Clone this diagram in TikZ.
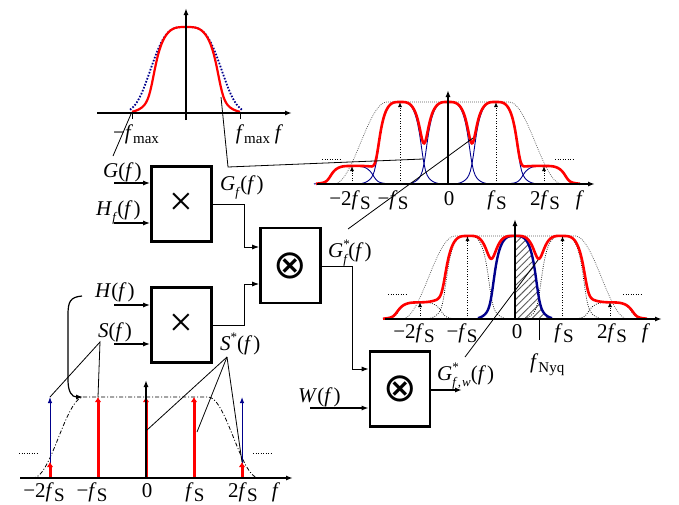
\documentclass[tikz,border=0pt]{standalone}
\usepackage{fontspec}
\setmainfont{Liberation Serif}
\newfontfamily\symfont{DejaVu Sans}
\usetikzlibrary{arrows.meta,patterns.meta}
\definecolor{navy}{RGB}{0,0,140}
\definecolor{rd}{RGB}{255,0,0}
\pgfmathdeclarefunction{gb}{1}{\pgfmathparse{exp(0-pow(min(abs(#1)/39.7,2.2)+0.001,3.44))}}
\pgfmathdeclarefunction{gr}{1}{\pgfmathparse{gb(#1)*(0.25+0.75/(1+exp(max(min((abs(#1)-34)/3,9),-9))))}}
\pgfmathdeclarefunction{pq}{1}{\pgfmathparse{gr(1.5*(#1))}}
\pgfmathdeclarefunction{pw}{1}{\pgfmathparse{gr(1.42*(#1))}}
\pgfmathdeclarefunction{rc}{3}{\pgfmathparse{0.5*(1+cos(180*min(max((abs(#1)-#2)/(#3-#2),0),1)))}}
\pgfmathdeclarefunction{rtr}{1}{\pgfmathparse{0.22*pq(#1+96)+pq(#1+48)+pq(#1)+pq(#1-48)+0.22*pq(#1-96)}}
\pgfmathdeclarefunction{rmr}{1}{\pgfmathparse{0.2*pw(#1+95)+pw(#1+47.5)+pw(#1)+pw(#1-47.5)+0.2*pw(#1-95)}}
\newcommand\fS{\textit{f}\kern0.3pt\raisebox{-4pt}{\fontsize{19}{19}\selectfont S}}
\newcommand\fmx{\textit{f}\raisebox{-4pt}{\fontsize{15}{15}\selectfont max}}
\newcommand\fnq{\textit{f}\raisebox{-4pt}{\fontsize{15}{15}\selectfont Nyq}}
\newcommand\sbf[1]{\raisebox{-6pt}{\fontsize{13}{13}\selectfont #1}}
\newcommand\spst{\raisebox{8.5pt}{\fontsize{13}{13}\selectfont *}}
\newcommand\ff{(\textit{f}\kern1pt)}
\begin{document}
\begin{tikzpicture}[x=1pt,y=-1pt,
  lab/.style={font=\fontsize{21}{24}\selectfont, inner sep=0pt},
  blk/.style={draw, line width=2.6pt, minimum width=60pt, minimum height=75pt, inner sep=0pt, fill=white},
  thinl/.style={line width=0.8pt},
  ax/.style={line width=1.4pt, -{Latex[length=7pt,width=5pt]}},
  inarr/.style={line width=1.5pt, -{Latex[length=7pt,width=5pt]}},
  conarr/.style={line width=1pt, -{Latex[length=7pt,width=5pt]}},
  dotarr/.style={line width=1pt, dash pattern=on 1pt off 1.6pt, -{Latex[length=5pt,width=4pt]}},
  envd/.style={line width=0.7pt, gray!70!black, dash pattern=on 0.8pt off 1.2pt},
  pulsed/.style={line width=0.7pt, black, dash pattern=on 0.8pt off 1.4pt},
  dots/.style={line width=1pt, dash pattern=on 1pt off 1.5pt},
  redc/.style={rd, line width=2.6pt, line join=round},
  redarr/.style={rd, line width=3pt, -{Latex[length=5pt,width=6.5pt]}},
  bluearr/.style={navy, line width=1pt, -{Latex[length=6pt,width=4.5pt]}},
  ]
\useasboundingbox (0,0) rectangle (679,504);

% ---------- top-left spectrum ----------
\draw[navy, line width=1.8pt, dash pattern=on 1.6pt off 1.6pt] plot[domain=-56:56, samples=60] ({186+\x},{113-86*gb(\x)});
\draw[rd, line width=2.2pt] plot[domain=-54:54, samples=120] ({186+\x},{113-86*gr(\x)});
\draw[ax] (97,113) -- (292,113);
\draw[ax] (186,120) -- (186,8);
\draw[thinl] (132,113) -- (132,119);
\draw[thinl] (240,113) -- (240,119);
\node[lab, anchor=base] (tlm) at (136,139) {−\fmx};
\node[lab, anchor=base] (tlp) at (253,139) {\fmx};
\node[lab, anchor=base] (tlf) at (279,139) {\textit{f}};

% ---------- top-right spectrum ----------
\foreach \k/\a in {-2/0.22,-1/1,0/1,1/1,2/0.22}
  \draw[navy, line width=0.9pt] plot[domain=-38:38, samples=50] ({448+48*\k+\x},{184-82*\a*pq(\x)});
\draw[envd] plot[domain=-116:116, samples=90] ({448+\x},{184-82*rc(\x,61,114)});
\draw[redc] plot[domain=-132:132, samples=240] ({448+\x},{184-82*rtr(\x)});
\draw[dotarr] (352,184) -- (352,166);
\draw[dotarr] (400,184) -- (400,102);
\draw[dotarr] (496,184) -- (496,102);
\draw[dotarr] (544,184) -- (544,166);
\draw[ax] (317,184) -- (595,184);
\draw[ax] (448,184) -- (448,90);
\draw[dots] (322,159) -- (340,159);
\draw[dots] (555,159) -- (573,159);
\node[lab, anchor=base] (tr1) at (350,205) {−2\fS};
\node[lab, anchor=base] (tr2) at (393,205) {−\fS};
\node[lab, anchor=base] (tr3) at (449,205) {0};
\node[lab, anchor=base] (tr4) at (497,205) {\fS};
\node[lab, anchor=base] (tr5) at (545,205) {2\fS};
\node[lab, anchor=base] (tr6) at (580,205) {\textit{f}};

% ---------- middle-right spectrum ----------
\fill[pattern={Lines[angle=45,distance=5pt,line width=0.9pt]}, pattern color=gray!70!black]
  (515,319) -- plot[domain=0:36, samples=40] ({515+\x},{319-83*pq(\x)}) -- cycle;
\foreach \k/\a in {-2/0.2,-1/1,1/1,2/0.2}
  \draw[pulsed] plot[domain=-37:37, samples=50] ({515+47.5*\k+\x},{319-83*\a*pq(\x)});
\draw[envd] plot[domain=-115:115, samples=90] ({515+\x},{319-83*rc(\x,60,113)});
\draw[navy, line width=2.4pt] plot[domain=-37:37, samples=70] ({515+\x},{319-83*pq(\x)});
\draw[redc] plot[domain=-132:132, samples=240] ({515+\x},{319-83*rmr(\x)});
\draw[dotarr] (420,319) -- (420,302);
\draw[dotarr] (467.5,319) -- (467.5,236);
\draw[dotarr] (562.5,319) -- (562.5,236);
\draw[dotarr] (610,319) -- (610,302);
\draw[ax] (385,319) -- (662,319);
\draw[ax] (515,319) -- (515,219);
\draw[thinl] (539,319) -- (539,340);
\draw[dots] (388,294) -- (408,294);
\draw[dots] (623,294) -- (643,294);
\node[lab, anchor=base] (mr1) at (414,338) {−2\fS};
\node[lab, anchor=base] (mr2) at (462,338) {−\fS};
\node[lab, anchor=base] (mr3) at (517,338) {0};
\node[lab, anchor=base] (mr4) at (564,338) {\fS};
\node[lab, anchor=base] (mr5) at (612,338) {2\fS};
\node[lab, anchor=base] (mr6) at (646,338) {\textit{f}};
\node[lab, anchor=base west] (nyq) at (530,368) {\fnq};

% ---------- bottom-left spectrum ----------
\draw[thinl, dash pattern=on 4pt off 2pt on 1pt off 2pt] plot[domain=-114:114, samples=90] ({146+\x},{478-81*rc(\x,62,113)});
\draw[bluearr] (50,478) -- (50,397);
\draw[bluearr] (242,478) -- (242,397);
\foreach \xx in {98,146,194} \draw[redarr] (\xx,478) -- (\xx,397);
\draw[redarr] (50,478) -- (50,462);
\draw[redarr] (242,478) -- (242,462);
\draw[ax] (20,478) -- (293,478);
\draw[ax] (146,478) -- (146,380);
\draw[dots] (19,453) -- (38,453);
\draw[dots] (253,453) -- (272,453);
\node[lab, anchor=base] (bl1) at (44,497) {−2\fS};
\node[lab, anchor=base] (bl2) at (92,497) {−\fS};
\node[lab, anchor=base] (bl3) at (147,497) {0};
\node[lab, anchor=base] (bl4) at (195,497) {\fS};
\node[lab, anchor=base] (bl5) at (243,497) {2\fS};
\node[lab, anchor=base] (bl6) at (276,497) {\textit{f}};

% ---------- blocks ----------
\node[blk] (b1) at (181.5,204) {\fontsize{42}{42}\selectfont ×};
\node[blk] (b2) at (290.5,265.5) {\symfont\fontsize{40}{40}\selectfont ⊗};
\node[blk] (b3) at (181.5,325) {\fontsize{42}{42}\selectfont ×};
\node[blk] (b4) at (400,389) {\symfont\fontsize{40}{40}\selectfont ⊗};

\node[lab, anchor=base west] (lG) at (103,177) {\textit{G}\ff};
\node[lab, anchor=base west] (lHf) at (96,215) {\textit{H}\sbf{\textit{f}}\ff};
\node[lab, anchor=base west] (lGf) at (220,190) {\textit{G}\sbf{\textit{f}}\ff};
\node[lab, anchor=base west] (lH) at (95,297) {\textit{H}\ff};
\node[lab, anchor=base west] (lS) at (98,337) {\textit{S}\ff};
\node[lab, anchor=base west] (lSs) at (220,350) {\textit{S}\spst\ff};
\node[lab, anchor=base west] (lGs) at (328,257) {\textit{G}\rlap{\spst}\sbf{\textit{f}}\ff};
\node[lab, anchor=base west] (lW) at (298,402) {\textit{W}\ff};
\node[lab, anchor=base west] (lGw) at (437,380) {\textit{G}\rlap{\spst}\sbf{\textit{f}\kern0.5pt,\kern1pt\textit{w}}\ff};

\coordinate (i1) at (114,183);
\coordinate (i2) at (114,223);
\coordinate (i3) at (114,305);
\coordinate (i4) at (114,344);
\coordinate (iw) at (310,408);
\coordinate (o4) at (462,390);
\draw[inarr] (i1) -- (i1 -| b1.west);
\draw[inarr] (i2) -- (i2 -| b1.west);
\draw[inarr] (i3) -- (i3 -| b3.west);
\draw[inarr] (i4) -- (i4 -| b3.west);
\draw[inarr] (iw) -- (iw -| b4.west);
\draw[inarr] (b4.east |- o4) -- (o4);

\coordinate (k1) at (244,204);
\coordinate (k2) at (244,247);
\coordinate (k3) at (244,325);
\coordinate (k4) at (244,284);
\coordinate (k5) at (352,266);
\coordinate (k6) at (352,369);
\draw[conarr] (b1.east) -- (k1) -- (k2) -- (k2 -| b2.west);
\draw[conarr] (b3.east) -- (k3) -- (k4) -- (k4 -| b2.west);
\draw[conarr] (b2.east |- k5) -- (k5) -- (k6) -- (k6 -| b4.west);

% ---------- pointer lines ----------
\coordinate (p1a) at (131,114);
\coordinate (p1b) at (113,156);
\draw[thinl] (p1a) -- (p1b);
\coordinate (p2a) at (221,97);
\coordinate (p2b) at (228,167);
\coordinate (p2c) at (423,159);
\draw[thinl] (p2a) -- (p2b) -- (p2c);
\coordinate (p3a) at (348,229);
\coordinate (p3b) at (473,138);
\draw[thinl] (p3a) -- (p3b);
\coordinate (p4a) at (465,357);
\coordinate (p4b) at (538,260);
\draw[thinl] (p4a) -- (p4b);
\coordinate (ps) at (100,342);
\coordinate (ps1) at (50,397);
\coordinate (ps2) at (98,397);
\draw[thinl] (ps1) -- (ps) -- (ps2);
\coordinate (pq) at (227,357);
\coordinate (pq1) at (147,430);
\coordinate (pq2) at (197,432);
\coordinate (pq3) at (242,462);
\draw[thinl] (pq) -- (pq1);
\draw[thinl] (pq) -- (pq2);
\draw[thinl] (pq) -- (pq3);
\coordinate (hc0) at (82,296);
\coordinate (hc1) at (83,397);
\draw[line width=1.2pt, -{Latex[length=7pt,width=5pt]}] (hc0) .. controls (70,297) and (68,302) .. (68,315) -- (68,380) .. controls (68,392) and (72,397) .. (hc1);
\end{tikzpicture}
\end{document}
